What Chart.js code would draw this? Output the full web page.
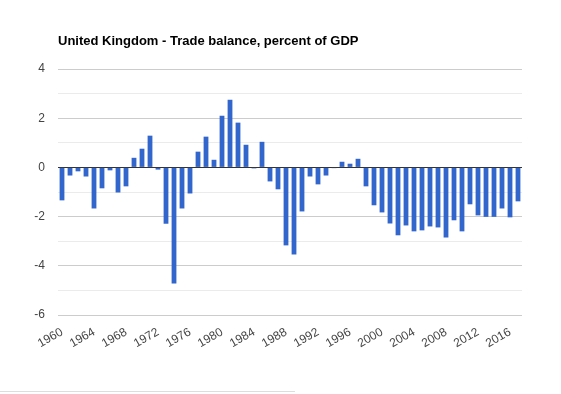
<!DOCTYPE html>
<html>
<head>
<meta charset="utf-8">
<script src="https://cdn.jsdelivr.net/npm/chart.js@4.4.1/dist/chart.umd.min.js"></script>
<style>
  html, body { margin: 0; padding: 0; background: #fff; }
  #wrap { position: relative; width: 561px; height: 394px; }
  #title {
    position: absolute; left: 58px; top: 34px;
    font: bold 13px Arial, "Liberation Sans", sans-serif; color: #000;
    line-height: 14px; white-space: nowrap;
  }
  #rule { position: absolute; left: 0; top: 391px; width: 295px; height: 1px; background: #ddd; }
</style>
</head>
<body>
<div id="wrap">
  <canvas id="chart" width="561" height="394"></canvas>
  <div id="title">United Kingdom - Trade balance, percent of GDP</div>
  <div id="rule"></div>
</div>
<script>
// years shown on the x axis
const years = [];
for (let y = 1960; y <= 2017; y++) years.push(String(y));

// trade balance, % of GDP
const tradeBalance = [
  -1.34, -0.33, -0.16, -0.37, -1.67, -0.85, -0.12, -1.02, -0.77, 0.39,
  0.76, 1.29, -0.09, -2.29, -4.72, -1.67, -1.06, 0.64, 1.25, 0.31,
  2.10, 2.75, 1.82, 0.92, -0.04, 1.04, -0.57, -0.89, -3.17, -3.54,
  -1.79, -0.37, -0.69, -0.33, -0.03, 0.23, 0.15, 0.35, -0.77, -1.54,
  -1.83, -2.28, -2.76, -2.36, -2.60, -2.56, -2.40, -2.44, -2.85, -2.15,
  -2.60, -1.50, -1.95, -2.01, -2.01, -1.67, -2.03, -1.38
];

const yTicks = [-6, -4, -2, 0, 2, 4];

const ctx = document.getElementById('chart').getContext('2d');
new Chart(ctx, {
  type: 'bar',
  data: {
    labels: years,
    datasets: [{
      data: tradeBalance,
      backgroundColor: '#3366cc',
      borderWidth: 0,
      barPercentage: 0.6,
      categoryPercentage: 1.0
    }]
  },
  options: {
    responsive: false,
    animation: false,
    layout: { padding: { top: 69, right: 39, left: 0, bottom: 0 } },
    plugins: { legend: { display: false }, tooltip: { enabled: false } },
    scales: {
      x: {
        offset: true,
        grid: { display: false, drawTicks: false },
        border: { display: false },
        ticks: {
          autoSkip: false,
          maxRotation: 30,
          minRotation: 30,
          padding: 10,
          color: '#444',
          font: { family: 'Arial, "Liberation Sans", sans-serif', size: 12 },
          callback: function(v, i) {
            return (i % 4 === 0) ? years[i] : '';
          }
        },
        afterFit: function(scale) { scale.height = 79; }
      },
      y: {
        min: -6,
        max: 4,
        grid: {
          drawTicks: false,
          color: function(c) {
            const v = c.tick.value;
            if (v === 0) return '#333';
            return (v % 2 === 0) ? '#ccc' : '#ebebeb';
          }
        },
        border: { display: false },
        ticks: {
          stepSize: 1,
          padding: 13,
          color: '#444',
          font: { family: 'Arial, "Liberation Sans", sans-serif', size: 12 },
          callback: function(v) {
            return yTicks.includes(v) ? String(v) : '';
          }
        },
        afterFit: function(scale) { scale.width = 58; }
      }
    }
  }
});
</script>
</body>
</html>
